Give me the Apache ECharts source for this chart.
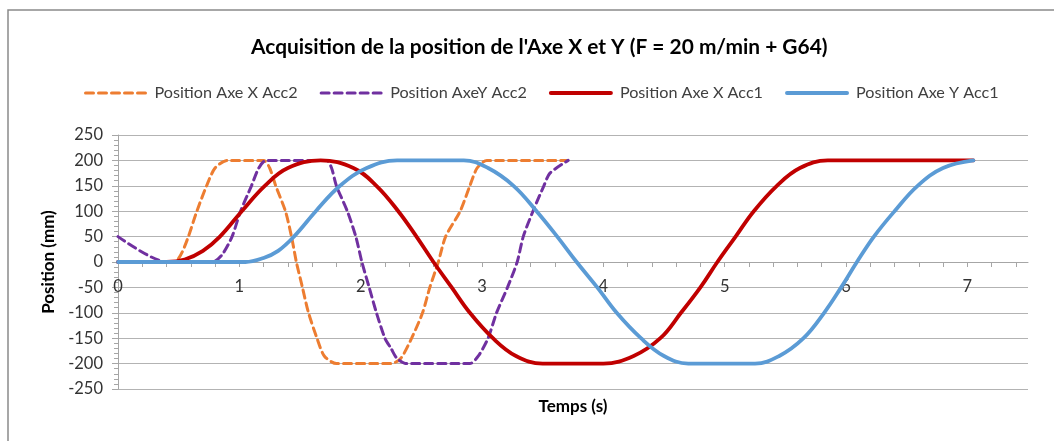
<!DOCTYPE html>
<html>
<head>
<meta charset="utf-8">
<script src="https://cdn.jsdelivr.net/npm/echarts@6/dist/echarts.min.js"></script>
<style>
  html, body { margin: 0; padding: 0; background: #fff; }
  #chart { width: 1054px; height: 441px; }
</style>
</head>
<body>
<div id="chart"></div>
<script>
// [temps (s), position (mm)]
const xAcc2 = [[0.4, 0], [0.48, 2], [0.53, 20], [0.58, 50], [0.65, 100], [0.73, 150], [0.8, 185], [0.9, 200],
  [1.2, 200], [1.25, 185], [1.3, 150], [1.38, 100], [1.43, 50], [1.47, 0], [1.52, -50], [1.57, -100],
  [1.64, -150], [1.7, -185], [1.8, -200], [2.25, -200], [2.33, -190], [2.42, -150], [2.51, -100],
  [2.57, -50], [2.64, 0], [2.7, 50], [2.82, 100], [2.9, 150], [2.96, 185], [3.04, 200], [3.7, 200]]
const yAcc2 = [[0, 50], [0.4, 0], [0.78, 0], [0.86, 15], [0.94, 50], [1.01, 100], [1.1, 150], [1.16, 185],
  [1.22, 200], [1.72, 200], [1.76, 185], [1.8, 150], [1.89, 100], [1.96, 50], [2.01, 0], [2.07, -50],
  [2.13, -100], [2.2, -150], [2.25, -170], [2.3, -190], [2.38, -200], [2.9, -200], [2.97, -185],
  [3.05, -150], [3.12, -100], [3.21, -50], [3.29, 0], [3.34, 50], [3.42, 100], [3.51, 150], [3.56, 175], [3.71, 200]]
const xAcc1 = [[0, 0], [0.4, 0], [0.55, 5], [0.7, 22], [0.84, 50], [1.02, 100], [1.21, 150], [1.4, 185],
  [1.67, 200], [1.94, 185], [2.13, 150], [2.31, 100], [2.46, 50], [2.6, 0], [2.75, -50], [2.9, -100],
  [3.09, -150], [3.28, -185], [3.5, -200], [4.0, -200], [4.25, -185], [4.47, -150], [4.64, -100],
  [4.8, -50], [4.94, 0], [5.09, 50], [5.24, 100], [5.43, 150], [5.62, 185], [5.85, 200], [7.05, 200]]
const yAcc1 = [[0, 0], [1.05, 0], [1.2, 8], [1.32, 22], [1.45, 50], [1.63, 100], [1.83, 150], [2.05, 185],
  [2.3, 200], [2.85, 200], [3.05, 185], [3.26, 150], [3.45, 100], [3.62, 50], [3.78, 0], [3.95, -50],
  [4.11, -100], [4.31, -150], [4.5, -185], [4.7, -200], [5.25, -200], [5.45, -185], [5.65, -150],
  [5.82, -100], [5.96, -50], [6.09, 0], [6.23, 50], [6.4, 100], [6.59, 150], [6.8, 185], [7.05, 200]]

const seriesNames = ['Position Axe X Acc2', 'Position AxeY Acc2', 'Position Axe X Acc1', 'Position Axe Y Acc1']

const font = 'Lato, "Open Sans", sans-serif'
let chart = echarts.init(document.getElementById('chart'))

function line (name, data, color, width, dashed) {
  return {
    name: name,
    type: 'line',
    data: data,
    smooth: dashed ? 0.25 : 0.4,
    symbol: 'none',
    lineStyle: { color: color, width: width, type: dashed ? [8, 5] : 'solid', cap: 'round' },
    itemStyle: { color: color }
  }
}

chart.setOption({
  animation: false,
  textStyle: { fontFamily: font },
  graphic: [{
    type: 'rect',
    shape: { x: 8, y: 10, width: 1200, height: 600 },
    style: { fill: 'none', stroke: '#8a8a8a', lineWidth: 1.5 }
  }],
  title: {
    text: "Acquisition de la position de l'Axe X et Y (F = 20 m/min + G64)",
    left: 246,
    top: 32,
    textStyle: { fontFamily: font, fontSize: 20.9, fontWeight: 'bold', color: '#000' }
  },
  legend: {
    top: 80,
    left: 79,
    itemWidth: 60,
    itemHeight: 14,
    itemGap: 22,
    itemStyle: { opacity: 0 },
    textStyle: { fontFamily: font, fontSize: 16.2, color: '#404040', padding: [0, 0, 0, 4] },
    data: [
      { name: seriesNames[0], lineStyle: { width: 3 } },
      { name: seriesNames[1], lineStyle: { width: 3 } },
      { name: seriesNames[2], lineStyle: { width: 4 } },
      { name: seriesNames[3], lineStyle: { width: 4 } }
    ]
  },
  grid: { left: 118, right: 26, top: 135, bottom: 52, containLabel: false, outerBoundsMode: 'none' },
  xAxis: {
    type: 'value',
    min: 0,
    max: 7.5,
    interval: 0.2,
    position: 'bottom',
    offset: -127,
    name: 'Temps (s)',
    nameLocation: 'middle',
    nameGap: 136,
    nameTextStyle: { fontFamily: font, fontSize: 17, fontWeight: 'bold', color: '#000', verticalAlign: 'top' },
    axisLine: { onZero: false, lineStyle: { color: '#a6a6a6', width: 1 } },
    axisTick: { show: true, length: 5, lineStyle: { color: '#a6a6a6' } },
    axisLabel: {
      margin: 16,
      fontSize: 16.5,
      color: '#333',
      showMaxLabel: false,
      formatter: function (v) {
        return Math.abs(v - Math.round(v)) < 1e-6 ? String(Math.round(v)) : ''
      }
    },
    splitLine: { show: false }
  },
  yAxis: {
    type: 'value',
    min: -250,
    max: 250,
    interval: 50,
    name: 'Position (mm)',
    nameLocation: 'middle',
    nameGap: 58,
    nameTextStyle: { fontFamily: font, fontSize: 17, fontWeight: 'bold', color: '#000' },
    axisLine: { show: true, onZero: false, lineStyle: { color: '#a6a6a6', width: 1 } },
    axisTick: { show: true, length: 6, lineStyle: { color: '#a6a6a6' } },
    minorTick: { show: true, splitNumber: 5, length: 4, lineStyle: { color: '#a6a6a6' } },
    axisLabel: { margin: 15, fontSize: 16.5, color: '#333' },
    splitLine: { show: true, lineStyle: { color: '#b3b3b3', width: 1.2 } }
  },
  series: [
    line(seriesNames[0], xAcc2, '#ED7D31', 3, true),
    line(seriesNames[1], yAcc2, '#7030A0', 3, true),
    line(seriesNames[2], xAcc1, '#C00000', 3.8, false),
    line(seriesNames[3], yAcc1, '#5B9BD5', 3.8, false)
  ]
})
</script>
</body>
</html>
